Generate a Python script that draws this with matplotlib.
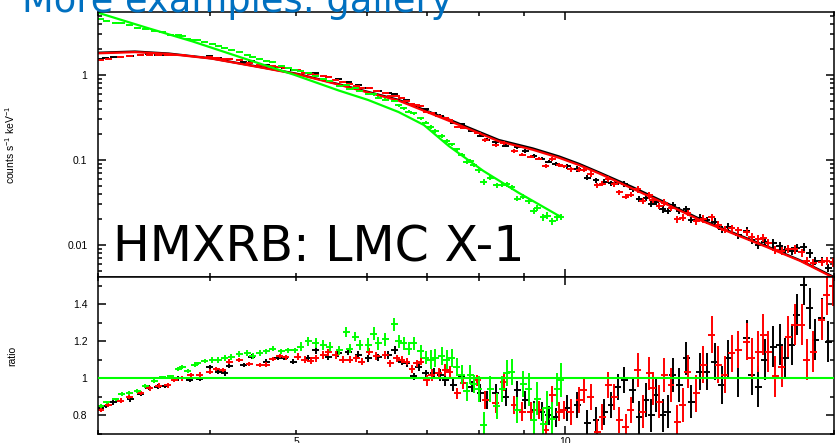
import numpy as np
import matplotlib
matplotlib.use('Agg')
import matplotlib.pyplot as plt
from matplotlib.ticker import FixedLocator, FuncFormatter, NullFormatter, MultipleLocator

plt.rcParams['font.family'] = ['Liberation Sans', 'DejaVu Sans']
plt.rcParams['mathtext.fontset'] = 'custom'
plt.rcParams['mathtext.rm'] = 'Liberation Sans'
plt.rcParams['mathtext.it'] = 'Liberation Sans:italic'

# model curves (keV, counts s^-1 keV^-1)
black_model_E = [3.00, 3.30, 3.60, 4.02, 4.54, 5.02, 5.58, 6.51, 7.47, 8.43, 9.2, 9.85, 10.37,
                 10.9, 11.9, 13.0, 14.15, 15.4, 16.8, 18.33, 20.0]
black_model = [1.83, 1.89, 1.79, 1.57, 1.25, 1.03, 0.78, 0.51, 0.29, 0.172, 0.137, 0.110,
               0.090, 0.072, 0.048, 0.031, 0.0203, 0.0140, 0.0097, 0.0066, 0.0042]
red_model = [1.80, 1.86, 1.77, 1.56, 1.24, 1.02, 0.77, 0.50, 0.28, 0.166, 0.132, 0.106,
             0.087, 0.070, 0.046, 0.030, 0.0197, 0.0137, 0.0095, 0.0065, 0.0041]
green_model_E = [3.00, 3.41, 3.83, 4.41, 4.97, 5.58, 6.02, 6.51, 6.95, 7.41, 8.1, 8.88, 9.8, 9.9]
green_model = [5.41, 3.57, 2.48, 1.52, 1.01, 0.657, 0.508, 0.367, 0.258, 0.146, 0.0744,
               0.0409, 0.0226, 0.0215]

# data/model ratios
black_E = [3.02, 3.06, 3.12, 3.26, 3.35, 3.42, 3.50, 3.57, 3.69, 3.80, 3.90, 4.00, 4.09, 4.16,
           4.21, 4.37, 4.46, 4.63, 4.77, 4.85, 4.96, 5.16, 5.26, 5.43, 5.57, 5.72, 5.87, 6.02,
           6.18, 6.34, 6.45, 6.56, 6.65, 6.77, 6.86, 6.98, 7.13, 7.25, 7.34, 7.50, 7.66, 7.86,
           8.04, 8.17, 8.36, 8.58, 8.84, 9.03, 9.23, 9.42, 9.59, 9.76, 10.06, 10.32, 10.59,
           10.83, 11.06, 11.26, 11.45, 11.65, 11.90, 12.11, 12.32, 12.48, 12.64, 12.86, 13.03,
           13.20, 13.43, 13.67, 13.85, 14.15, 14.40, 14.71, 14.97, 15.22, 15.62, 15.97, 16.17,
           16.45, 16.74, 17.10, 17.40, 17.63, 17.94, 18.17, 18.49, 18.80, 19.05, 19.38, 19.71]
black_ratio = [0.84, 0.85, 0.87, 0.886, 0.915, 0.95, 0.955, 0.958, 1.00, 0.99, 0.996, 1.06, 1.036,
               1.027, 1.066, 1.072, 1.117, 1.09, 1.108, 1.108, 1.09, 1.108, 1.15, 1.117, 1.135,
               1.144, 1.126, 1.108, 1.113, 1.126, 1.153, 1.09, 1.08, 1.01, 1.06, 1.027, 1.027,
               1.018, 0.99, 0.964, 1.01, 0.955, 0.92, 0.883, 0.92, 0.90, 0.937, 0.883, 0.83,
               0.82, 0.80, 0.79, 0.838, 0.856, 0.757, 0.775, 0.82, 0.856, 0.955, 0.99, 0.937,
               0.79, 0.883, 0.80, 0.91, 0.80, 0.82, 1.018, 0.964, 1.108, 0.874, 1.036, 1.036,
               1.09, 0.964, 1.108, 1.00, 1.216, 1.018, 0.955, 1.10, 1.17, 1.18, 1.108, 1.18,
               1.342, 1.505, 1.378, 1.207, 1.325, 1.198]
black_err = ([0.012] * 21 + [0.02] * 15 + [0.03] * 6 + [0.05] * 10 + [0.07] * 9
             + [0.09] * 10 + [0.10] * 7 + [0.11] * 13)

red_E = [3.02, 3.08, 3.18, 3.25, 3.35, 3.43, 3.51, 3.59, 3.65, 3.73, 3.81, 3.90, 4.00, 4.07,
         4.14, 4.21, 4.32, 4.43, 4.55, 4.63, 4.71, 4.79, 4.87, 5.02, 5.11, 5.19, 5.26, 5.36,
         5.43, 5.54, 5.64, 5.74, 5.84, 5.92, 6.04, 6.15, 6.29, 6.37, 6.48, 6.56, 6.65, 6.74,
         6.82, 6.89, 7.00, 7.09, 7.22, 7.34, 7.43, 7.57, 7.69, 7.97, 8.14, 8.36, 8.54, 8.77,
         8.96, 9.15, 9.35, 9.51, 9.67, 9.85, 9.97, 10.15, 10.37, 10.50, 10.69, 10.87, 11.01,
         11.18, 11.35, 11.50, 11.70, 11.85, 12.06, 12.22, 12.43, 12.53, 12.75, 12.91, 13.14,
         13.36, 13.54, 13.72, 14.03, 14.27, 14.59, 14.84, 15.10, 15.36, 15.62, 15.97, 16.17,
         16.45, 16.67, 16.88, 17.18, 17.48, 17.78, 18.08, 18.41, 18.64, 18.96, 19.38, 19.64,
         19.94]
red_ratio = [0.83, 0.855, 0.88, 0.90, 0.92, 0.945, 0.96, 0.962, 0.99, 1.00, 1.018, 1.02, 1.036,
             1.05, 1.045, 1.09, 1.10, 1.077, 1.072, 1.074, 1.104, 1.12, 1.113, 1.117, 1.10,
             1.095, 1.108, 1.126, 1.14, 1.126, 1.10, 1.10, 1.108, 1.09, 1.144, 1.12, 1.126,
             1.08, 1.108, 1.10, 1.09, 1.05, 1.08, 1.09, 0.99, 1.018, 1.027, 1.045, 1.036, 0.92,
             0.973, 0.99, 0.883, 0.865, 0.98, 0.856, 0.82, 0.82, 0.83, 0.72, 0.91, 0.82, 0.83,
             0.82, 0.883, 0.937, 0.90, 0.71, 0.79, 0.964, 0.90, 0.775, 0.74, 0.83, 1.045, 0.82,
             1.027, 0.946, 0.874, 1.018, 0.964, 0.765, 0.856, 1.036, 0.92, 1.072, 1.234, 1.072,
             1.018, 1.135, 1.153, 1.198, 1.108, 1.144, 1.234, 1.144, 1.01, 1.063, 1.225, 1.288,
             1.288, 1.10, 1.144, 1.315, 1.45, 1.50]
red_err = ([0.012] * 23 + [0.02] * 21 + [0.03] * 8 + [0.05] * 11 + [0.07] * 11
           + [0.09] * 10 + [0.10] * 8 + [0.11] * 14)

green_E = [3.02, 3.07, 3.14, 3.19, 3.25, 3.32, 3.39, 3.47, 3.54, 3.62, 3.69, 3.73, 3.78, 3.85,
           3.88, 3.95, 4.03, 4.09, 4.16, 4.23, 4.32, 4.41, 4.47, 4.55, 4.63, 4.71, 4.81, 4.90,
           4.98, 5.06, 5.16, 5.26, 5.36, 5.45, 5.59, 5.69, 5.74, 5.82, 5.89, 6.02, 6.11, 6.18,
           6.29, 6.44, 6.51, 6.60, 6.68, 6.77, 6.89, 6.98, 7.07, 7.16, 7.28, 7.37, 7.47, 7.56,
           7.66, 7.76, 7.83, 7.90, 8.01, 8.11, 8.25, 8.39, 8.50, 8.60, 8.72, 8.84, 8.98, 9.11,
           9.23, 9.31, 9.45, 9.55, 9.68, 9.80, 9.89]
green_ratio = [0.85, 0.87, 0.886, 0.915, 0.92, 0.93, 0.96, 0.985, 1.005, 1.01, 1.05, 1.06, 1.04,
               1.07, 1.08, 1.095, 1.10, 1.10, 1.11, 1.115, 1.13, 1.135, 1.12, 1.135, 1.145, 1.16,
               1.145, 1.15, 1.15, 1.17, 1.20, 1.19, 1.18, 1.17, 1.15, 1.25, 1.16, 1.225, 1.18,
               1.18, 1.24, 1.19, 1.21, 1.29, 1.20, 1.19, 1.16, 1.19, 1.145, 1.11, 1.10, 1.11,
               1.12, 1.10, 1.11, 1.06, 1.02, 0.93, 1.02, 0.97, 0.94, 0.75, 0.94, 0.85, 0.94,
               1.03, 1.035, 0.83, 0.97, 0.94, 0.775, 0.89, 0.755, 0.84, 0.78, 0.94, 0.99]
green_err = ([0.01] * 16 + [0.015] * 13 + [0.025] * 10 + [0.035] * 11 + [0.05] * 10
             + [0.07] * 9 + [0.09] * 8)

GREEN = '#00ff00'
RED = '#ff0000'

fig = plt.figure(figsize=(8.36, 4.43), dpi=100)
ax1 = fig.add_axes([0.1172, 0.3747, 0.8804, 0.5971])
ax2 = fig.add_axes([0.1172, 0.0192, 0.8804, 0.3555], sharex=ax1)


def model_at(E, mE, m):
    return 10 ** np.interp(np.log10(E), np.log10(mE), np.log10(m))


sets = [
    (black_E, black_ratio, black_err, black_model_E, black_model, 'black'),
    (red_E, red_ratio, red_err, black_model_E, red_model, RED),
    (green_E, green_ratio, green_err, green_model_E, green_model, GREEN),
]

for E, r, err, mE, m, c in sets:
    E = np.array(E)
    r = np.array(r)
    err = np.array(err)
    counts = r * model_at(E, mE, m)
    xe = E * 0.009
    ax1.errorbar(E, counts, yerr=counts * err, xerr=xe, fmt='none', ecolor=c,
                 elinewidth=1.4, capsize=0)
    ax1.plot(mE, m, color=c, lw=1.6)
    ax2.errorbar(E, r, yerr=err, xerr=xe, fmt='none', ecolor=c, elinewidth=1.4, capsize=0)

ax2.axhline(1.0, color=GREEN, lw=1.5, zorder=5)

for ax in (ax1, ax2):
    ax.set_xscale('log')
    ax.set_xlim(3.0, 20.0)
    ax.xaxis.set_major_locator(FixedLocator([10]))
    ax.xaxis.set_minor_locator(FixedLocator([3, 4, 5, 6, 7, 8, 9, 20]))
    ax.tick_params(which='both', direction='in', top=True, right=True, width=1.1,
                   labelsize=7.5, pad=7.5)
    ax.tick_params(which='major', length=6)
    ax.tick_params(which='minor', length=3)
    for s in ax.spines.values():
        s.set_linewidth(1.1)

ax1.set_yscale('log')
ax1.set_ylim(0.0042, 5.44)
ax1.yaxis.set_major_formatter(FuncFormatter(lambda v, p: '%g' % v))
ax1.yaxis.set_minor_formatter(NullFormatter())
ax1.tick_params(axis='x', which='both', labelbottom=False)
ax1.set_ylabel('counts s$^{-1}$ keV$^{-1}$', fontsize=7.5)
ax1.yaxis.set_label_coords(-0.110, 0.5)

ax2.set_ylim(0.697, 1.546)
ax2.yaxis.set_major_locator(FixedLocator([0.8, 1.0, 1.2, 1.4]))
ax2.yaxis.set_minor_locator(MultipleLocator(0.1))
ax2.yaxis.set_major_formatter(FuncFormatter(lambda v, p: '%g' % v))
ax2.xaxis.set_major_formatter(FuncFormatter(lambda v, p: '%g' % v))
ax2.xaxis.set_minor_formatter(FuncFormatter(lambda v, p: '5' if abs(v - 5) < 1e-6 else ''))
ax2.tick_params(axis='x', which='both', pad=2)
ax2.set_ylabel('ratio', fontsize=7.5)
ax2.yaxis.set_label_coords(-0.110, 0.5)

fig.text(113 / 836, 1 - 262 / 443, 'HMXRB: LMC X-1', fontsize=35.3, family='DejaVu Sans',
         ha='left', va='baseline', color='black')
fig.text(22 / 836, 1 - 11.5 / 443, 'More examples: gallery', fontsize=26.5, family='DejaVu Sans',
         ha='left', va='baseline', color='#0070c0')

fig.savefig('out.png', dpi=100)
